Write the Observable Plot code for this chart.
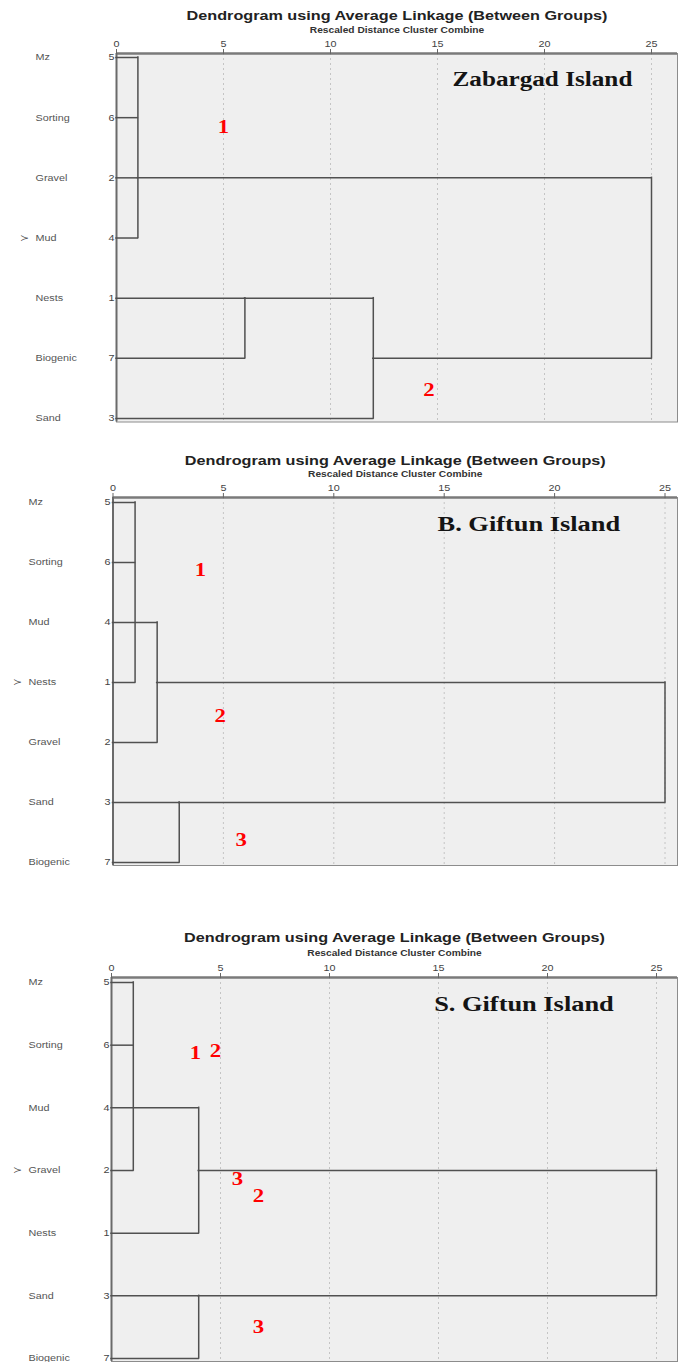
<!DOCTYPE html>
<html><head><meta charset="utf-8">
<script src="https://cdn.jsdelivr.net/npm/d3@7"></script>
<script src="https://cdn.jsdelivr.net/npm/@observablehq/plot@0.6"></script>
<style>
html,body{margin:0;padding:0;background:#fff;overflow:hidden;width:678px;height:1362px;}
#wrap{position:relative;width:678px;height:1362px;overflow:hidden;}
.panel{position:absolute;left:0;}
</style></head><body><div id="wrap"></div>
<script>
// ---------- shared text ----------
const axisTicks = [0, 5, 10, 15, 20, 25];
const chartTitle = "Dendrogram using Average Linkage (Between Groups)";
const chartSubtitle = "Rescaled Distance Cluster Combine";

// ---------- Panel 1: Zabargad Island ----------
const zabName = "Zabargad Island";
const zabLabels = ["Mz", "Sorting", "Gravel", "Mud", "Nests", "Biogenic", "Sand"];
const zabCases = [5, 6, 2, 4, 1, 7, 3];
const zabMarked = "Mud";
// each merge: height, arms = [row, starting distance]
const zabMerges = [
  {height: 1, arms: [[0, 0], [1, 0], [2, 0], [3, 0]]},
  {height: 6, arms: [[4, 0], [5, 0]]},
  {height: 12, arms: [[4, 6], [6, 0]]},
  {height: 25, arms: [[2, 1], [5, 12]]}
];
const zabNotes = [
  {text: "1", x: 5.0, y: 1.16},
  {text: "2", x: 14.6, y: 5.53}
];
const zabLabelPos = {x: 15.7, y: 0.37};

// ---------- Panel 2: B. Giftun Island ----------
const bgName = "B. Giftun Island";
const bgLabels = ["Mz", "Sorting", "Mud", "Nests", "Gravel", "Sand", "Biogenic"];
const bgCases = [5, 6, 4, 1, 2, 3, 7];
const bgMarked = "Nests";
const bgMerges = [
  {height: 1, arms: [[0, 0], [1, 0], [3, 0]]},
  {height: 2, arms: [[2, 0], [4, 0]]},
  {height: 3, arms: [[5, 0], [6, 0]]},
  {height: 25, arms: [[3, 2], [5, 3]]}
];
const bgNotes = [
  {text: "1", x: 3.96, y: 1.12},
  {text: "2", x: 4.85, y: 3.55},
  {text: "3", x: 5.8, y: 5.63}
];
const bgLabelPos = {x: 14.7, y: 0.35};

// ---------- Panel 3: S. Giftun Island ----------
const sgName = "S. Giftun Island";
const sgLabels = ["Mz", "Sorting", "Mud", "Gravel", "Nests", "Sand", "Biogenic"];
const sgCases = [5, 6, 4, 2, 1, 3, 7];
const sgMarked = "Gravel";
const sgMerges = [
  {height: 1, arms: [[0, 0], [1, 0], [3, 0]]},
  {height: 4, arms: [[2, 0], [4, 0]]},
  {height: 4, arms: [[5, 0], [6, 0]]},
  {height: 25, arms: [[3, 4], [5, 4]]}
];
const sgNotes = [
  {text: "1", x: 3.85, y: 1.12},
  {text: "2", x: 4.77, y: 1.09},
  {text: "3", x: 5.78, y: 3.14},
  {text: "2", x: 6.74, y: 3.41},
  {text: "3", x: 6.74, y: 5.5}
];
const sgLabelPos = {x: 14.8, y: 0.34};

// ---------- layout (styling only) ----------
const layouts = [
  {top: 0, height: 440, x0: 116, x25: 651, right: 677, rowTop: 57, rowStep: 60.17, frameTop: 53, frameBottom: 421.5,
   titleDy: -38, subDy: -23, nameX: 35, caseRight: 114, markX: 24, islandSize: 21},
  {top: 440, height: 480, x0: 112.5, x25: 664.5, right: 677, rowTop: 62, rowStep: 60, frameTop: 57, frameBottom: 425,
   titleDy: -37, subDy: -23, nameX: 28, caseRight: 110, markX: 17, islandSize: 22},
  {top: 920, height: 450, x0: 111, x25: 656, right: 677, rowTop: 62, rowStep: 62.67, frameTop: 57, frameBottom: 441,
   titleDy: -40, subDy: -24, nameX: 28, caseRight: 109, markX: 17, islandSize: 22}
];

const panels = [
  {name: zabName, labels: zabLabels, cases: zabCases, marked: zabMarked, merges: zabMerges, notes: zabNotes, pos: zabLabelPos},
  {name: bgName, labels: bgLabels, cases: bgCases, marked: bgMarked, merges: bgMerges, notes: bgNotes, pos: bgLabelPos},
  {name: sgName, labels: sgLabels, cases: sgCases, marked: sgMarked, merges: sgMerges, notes: sgNotes, pos: sgLabelPos}
];

const STRETCH = 1.2;
const wrap = document.getElementById("wrap");

panels.forEach((p, k) => {
  const L = layouts[k];
  const W = 678;
  const pxPerUnit = (L.x25 - L.x0) / 25;
  const xDomain = [0, (L.right - L.x0) / pxPerUnit];
  const yDomain = [(L.frameTop - L.rowTop) / L.rowStep, (L.frameBottom - L.rowTop) / L.rowStep];

  const rows = p.labels.map((name, i) => ({name, i, c: String(p.cases[i])}));
  const hSeg = p.merges.flatMap(m => m.arms.map(([row, from]) => ({x1: from, x2: m.height, y: row})));
  const vSeg = p.merges.map(m => {
    const rs = m.arms.map(a => a[0]);
    return {x: m.height, y1: d3.min(rs), y2: d3.max(rs)};
  });
  const markedRow = rows.filter(r => r.name === p.marked);

  const svg = Plot.plot({
    width: W,
    height: L.height,
    marginLeft: L.x0,
    marginRight: W - L.right,
    marginTop: L.frameTop,
    marginBottom: L.height - L.frameBottom,
    x: {domain: xDomain, axis: null},
    y: {domain: yDomain, reverse: true, axis: null},
    style: {background: "transparent", fontFamily: "'Liberation Sans', Arial, sans-serif", overflow: "visible"},
    marks: [
      Plot.frame({fill: "#efefef", stroke: "#8c8c8c", strokeWidth: 1}),
      Plot.ruleX(axisTicks.slice(1), {stroke: "#c4c4c4", strokeDasharray: "2,3", strokeWidth: 1}),
      Plot.ruleY([yDomain[0]], {stroke: "#7a7a7a", strokeWidth: 2.5}),
      Plot.ruleX([0], {stroke: "#6a6a6a", strokeWidth: 2}),
      Plot.axisX(axisTicks, {anchor: "top", tickSize: 5, tickPadding: 2, fontSize: 9, fill: "#444", stroke: "#666", label: null}),
      Plot.ruleY(hSeg, {y: "y", x1: "x1", x2: "x2", stroke: "#505050", strokeWidth: 1.5, strokeLinecap: "square"}),
      Plot.ruleX(vSeg, {x: "x", y1: "y1", y2: "y2", stroke: "#505050", strokeWidth: 1.5, strokeLinecap: "square"}),
      // row names, case numbers, marker
      Plot.text(rows, {y: "i", text: "name", frameAnchor: "left", dx: L.nameX - L.x0, textAnchor: "start", fontSize: 9, fill: "#555"}),
      Plot.text(rows, {y: "i", text: "c", frameAnchor: "left", dx: L.caseRight - L.x0, textAnchor: "end", fontSize: 9, fill: "#444"}),
      Plot.text(markedRow, {y: "i", text: () => "≻", frameAnchor: "left", dx: L.markX - L.x0, textAnchor: "middle", fontSize: 9, fill: "#444"}),
      // titles
      Plot.text([chartTitle], {frameAnchor: "top", dy: L.titleDy, lineAnchor: "middle", fontSize: 13.5, fontWeight: "bold", fill: "#222"}),
      Plot.text([chartSubtitle], {frameAnchor: "top", dy: L.subDy, lineAnchor: "middle", fontSize: 8.5, fontWeight: "bold", fill: "#333"}),
      // island name
      Plot.text([p.pos], {x: "x", y: "y", text: () => p.name, textAnchor: "start", lineAnchor: "middle",
        fontFamily: "'Liberation Serif', 'Times New Roman', serif", fontWeight: "bold", fontSize: L.islandSize, fill: "#141414"}),
      // red cluster numbers
      Plot.text(p.notes, {x: "x", y: "y", text: "text", lineAnchor: "middle",
        fontFamily: "'Liberation Serif', 'Times New Roman', serif", fontWeight: "bold", fontSize: 19, fill: "#ff0000"})
    ]
  });

  // horizontal stretch of text (the reference figure is widened)
  svg.querySelectorAll("text").forEach(t => {
    const x = parseFloat(t.getAttribute("x")) || 0;
    const tr = t.getAttribute("transform") || "";
    t.setAttribute("transform", `${tr} translate(${x},0) scale(${STRETCH},1) translate(${-x},0)`);
  });

  const div = document.createElement("div");
  div.className = "panel";
  div.style.top = L.top + "px";
  div.appendChild(svg);
  wrap.appendChild(div);
});
</script>
</body></html>
